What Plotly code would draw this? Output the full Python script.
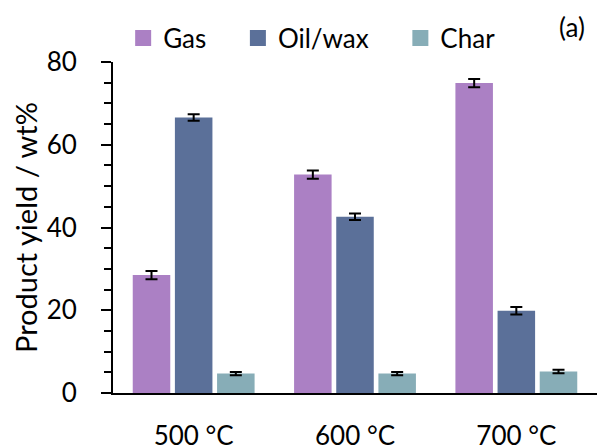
import plotly.graph_objects as go

categories = ["500 °C", "600 °C", "700 °C"]
series_names = ["Gas", "Oil/wax", "Char"]
gas = [28.5, 52.8, 74.9]
oil = [66.6, 42.6, 19.9]
char = [4.7, 4.7, 5.2]
gas_err = [1.0, 1.0, 1.0]
oil_err = [0.8, 0.8, 0.9]
char_err = [0.4, 0.4, 0.4]
colors = ["#ab80c4", "#5b7099", "#87adb7"]
y_ticks = [0, 20, 40, 60, 80]

FONT = "Lato, 'Open Sans', sans-serif"
NB = "\u00a0"

fig = go.Figure()
for name, vals, errs, col in zip(series_names, [gas, oil, char], [gas_err, oil_err, char_err], colors):
    fig.add_trace(go.Bar(
        x=categories, y=vals, name=name, showlegend=False,
        marker=dict(color=col, line=dict(width=0)),
        error_y=dict(type="data", array=errs, visible=True, color="black", thickness=2, width=6),
    ))
    # legend proxy with larger square swatch
    fig.add_trace(go.Scatter(
        x=[None], y=[None], mode="markers", name=name + NB * 4,
        marker=dict(symbol="square", size=18, color=col),
    ))

fig.update_layout(
    width=597, height=448,
    margin=dict(l=113, r=0, t=62, b=55, autoexpand=False),
    paper_bgcolor="white", plot_bgcolor="white",
    font=dict(family=FONT, size=26, color="black"),
    barmode="group", bargap=0.216, bargroupgap=0.11,
    showlegend=True,
    legend=dict(orientation="h", x=0.021, xref="paper", y=1 - 38 / 448, yref="container",
                yanchor="middle", xanchor="left", font=dict(size=26),
                itemsizing="trace", bgcolor="rgba(0,0,0,0)"),
    annotations=[dict(text="(a)", xref="paper", yref="paper", x=0.979, y=1.106,
                      xanchor="right", yanchor="middle", showarrow=False,
                      font=dict(size=26))],
)
fig.update_xaxes(
    showline=True, linecolor="black", linewidth=1.5,
    ticks="outside", ticklen=0, ticklabelstandoff=19, automargin=False,
    tickfont=dict(size=26), showgrid=False, zeroline=False,
)
fig.update_yaxes(
    range=[0, 80], tickvals=y_ticks, showline=True, linecolor="black", linewidth=2,
    ticks="outside", ticklen=10, tickwidth=1.5, tickcolor="black", automargin=False,
    ticklabelstandoff=19,
    minor=dict(ticks="outside", ticklen=7, tickwidth=1.5, tickcolor="black", dtick=5),
    showgrid=False, zeroline=False, tickfont=dict(size=26),
    title=dict(text="Product yield / wt%", font=dict(size=29), standoff=0),
)

fig.write_html("out.html", config={"displayModeBar": False},
               post_script="document.body.style.margin='0';")
